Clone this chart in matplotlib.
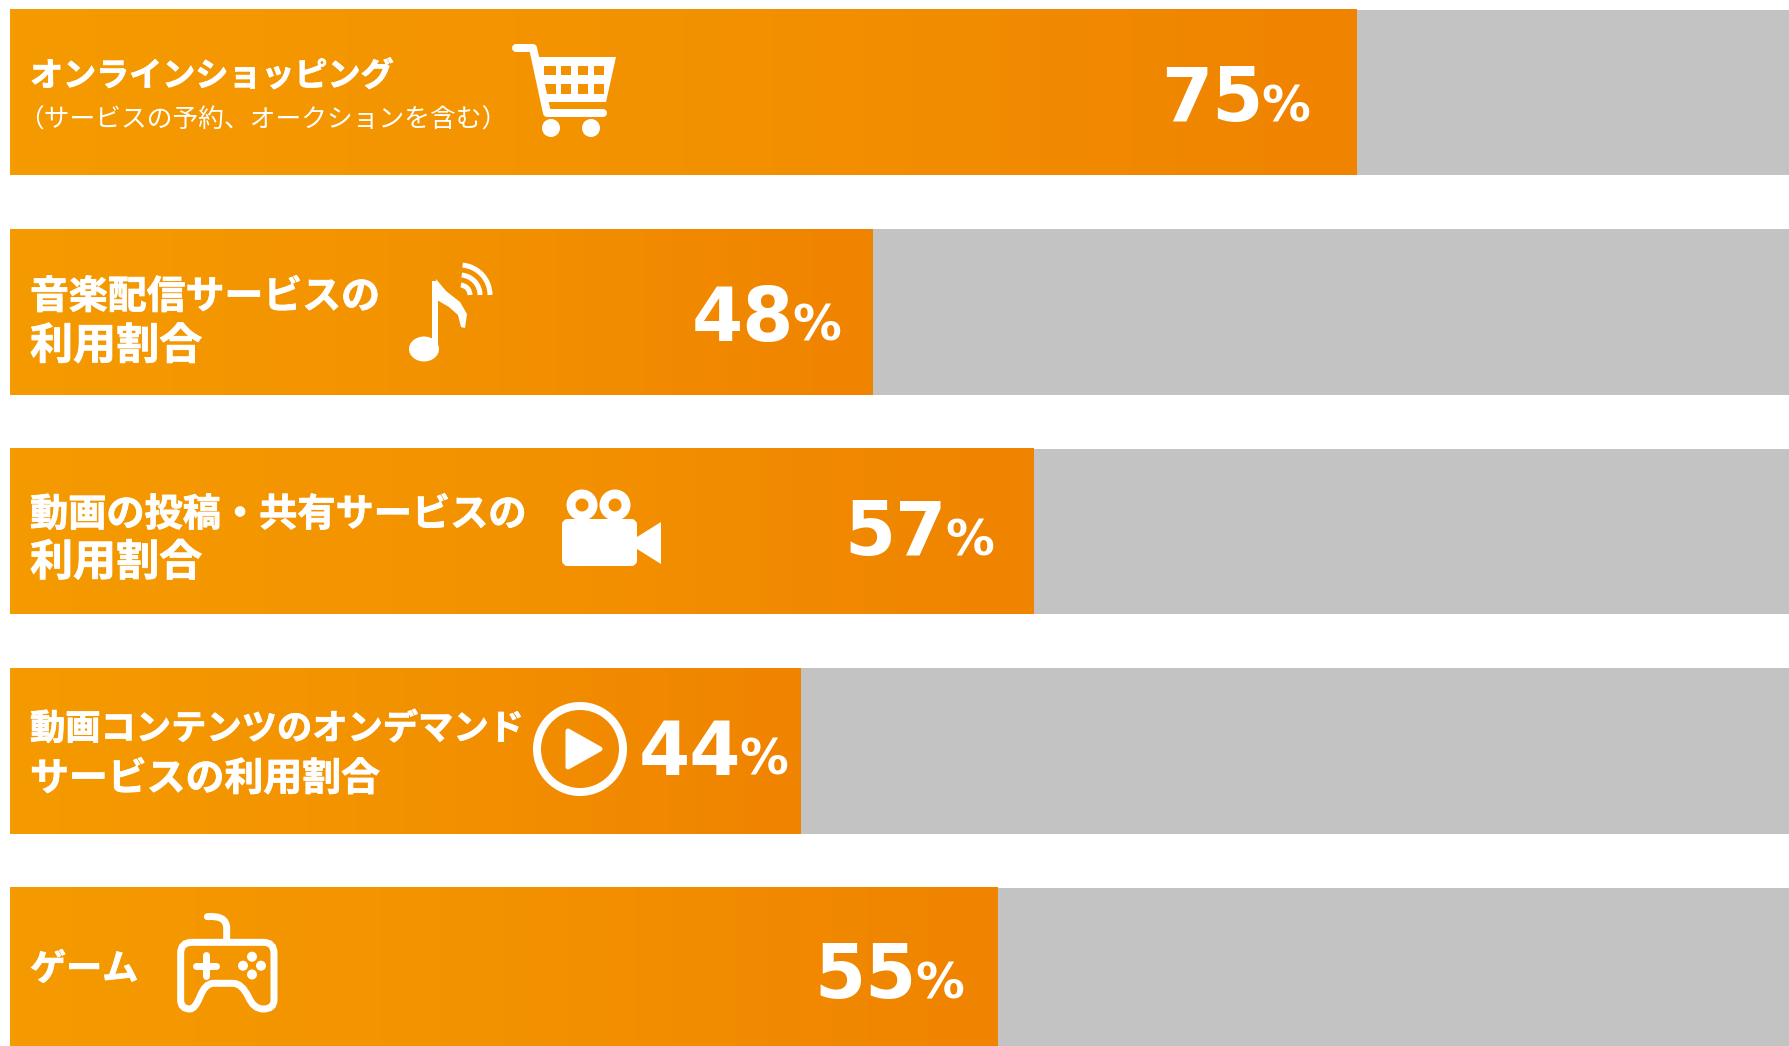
"""Internet service usage rates, horizontal gradient bars with icons."""

import matplotlib
matplotlib.use("Agg")
import matplotlib.patheffects as pe
import matplotlib.pyplot as plt
import numpy as np
from matplotlib.colors import LinearSegmentedColormap
from matplotlib.patches import Arc, Circle, Ellipse, FancyBboxPatch, PathPatch, Polygon
from matplotlib.path import Path

plt.rcParams["font.family"] = ["Noto Sans CJK JP", "DejaVu Sans"]

categories = [
    "オンラインショッピング",
    "音楽配信サービスの\n利用割合",
    "動画の投稿・共有サービスの\n利用割合",
    "動画コンテンツのオンデマンド\nサービスの利用割合",
    "ゲーム",
]
sub_label = "（サービスの予約、オークションを含む）"
values = [75, 48, 57, 44, 55]
total = [100, 100, 100, 100, 100]

W, H = 1789, 1046
PX_PER_PCT = 17.96
BAR_H = 0.755
ORANGE = "#F39200"
GREY = "#C3C3C3"

# per-bar text placement, pixels relative to the bar
label_size = [[23.8], [28, 31], [27.5, 31], [25.4, 28], [26]]
label_dy = [[-16], [-15, 34], [-17, 31], [-22, 28], [-1]]
pct_gap = [47, 31, 40, 12, 34]
pct_dy = [29, 29, 24, 24, 28]

fig = plt.figure(figsize=(W / 100, H / 100), dpi=100)
ax = fig.add_axes([0, 0, 1, 1])
ov = fig.add_axes([0, 0, 1, 1], zorder=3)
ov.set_xlim(0, W)
ov.set_ylim(H, 0)
ov.axis("off")
ov.patch.set_alpha(0)

cmap = LinearSegmentedColormap.from_list("bar", ["#F59A00", "#F39200", "#F08300"])
grad = np.linspace(0, 1, 256).reshape(1, -1)
pos = np.arange(len(values))

ax.barh(pos, total, height=BAR_H, color=GREY, zorder=1)
for y, v in zip(pos, values):
    ax.imshow(grad, cmap=cmap, aspect="auto", zorder=2,
              extent=(0, v, y + BAR_H / 2, y - BAR_H / 2))

ax.set_xlim(-10 / PX_PER_PCT, (W - 10) / PX_PER_PCT)
ax.set_ylim(4.344, -0.4214)
ax.axis("off")


def px(n):
    return n * 72 / 100


heavy = [pe.withStroke(linewidth=0.6, foreground="white")]

for i, (name, v) in enumerate(zip(categories, values)):
    lines = name.split("\n")
    for line, dy, size in zip(lines, label_dy[i], label_size[i]):
        ax.annotate(line, xy=(0, i), xytext=(px(20), -px(dy)), textcoords="offset points",
                    color="white", fontsize=size, fontweight="bold",
                    ha="left", va="center", zorder=4, path_effects=heavy)
    if i == 0:
        ax.annotate(sub_label, xy=(0, i), xytext=(px(8), -px(28)), textcoords="offset points",
                    color="white", fontsize=18.5, fontweight="normal",
                    ha="left", va="center", zorder=4)
    pct = ax.annotate("%", xy=(v, i), xytext=(-px(pct_gap[i]), -px(pct_dy[i])),
                      textcoords="offset points", color="white", fontsize=35,
                      fontweight="bold", family="DejaVu Sans",
                      ha="right", va="baseline", zorder=4)
    ax.annotate(str(v), xy=(0, 0), xycoords=pct, xytext=(px(2), px(10)),
                textcoords="offset points", color="white", fontsize=53,
                fontweight="bold", family="DejaVu Sans",
                ha="right", va="baseline", zorder=4)


def stroke(pts, lw):
    arr = np.array(pts)
    ov.plot(arr[:, 0], arr[:, 1], color="white", lw=px(lw),
            solid_capstyle="round", solid_joinstyle="round")


def draw_cart():
    stroke([(516, 48), (533, 48), (547, 113), (603, 113)], 8)
    ov.add_patch(Polygon([(538, 57), (616, 57), (606, 102), (545, 102)], fc="white", ec="none"))
    for x0, x1 in [(544, 556), (561, 571), (578, 588), (594, 604)]:
        for y0, y1 in [(66, 75), (84, 94)]:
            ov.add_patch(Polygon([(x0, y0), (x1, y0), (x1, y1), (x0, y1)], fc=ORANGE, ec="none"))
    ov.add_patch(Circle((551, 128), 9, fc="white", ec="none"))
    ov.add_patch(Circle((591, 128), 9, fc="white", ec="none"))


def draw_note():
    ov.add_patch(Polygon([(432, 281), (438, 281), (438, 352), (432, 352)], fc="white", ec="none"))
    ov.add_patch(Ellipse((424, 349), 30, 25, fc="white", ec="none"))
    ov.add_patch(Polygon([(436, 279), (446, 291), (460, 302), (467, 314), (465, 328), (461, 327),
                          (458, 315), (449, 307), (437, 300)], fc="white", ec="none"))
    for r in (30, 20, 10):
        ov.add_patch(Arc((460, 295), 2 * r, 2 * r, theta1=-85, theta2=0, color="white", lw=px(5)))


def draw_camera():
    for cx in (582, 615):
        ov.add_patch(Circle((cx, 505), 11, fc="none", ec="white", lw=px(9)))
    ov.add_patch(FancyBboxPatch((567, 524), 65, 37, boxstyle="round,pad=0,rounding_size=1",
                                fc="white", ec="white", lw=px(10)))
    ov.add_patch(Polygon([(637, 537), (661, 522), (661, 564), (637, 549)], fc="white", ec="none"))


def draw_play():
    ov.add_patch(Circle((580, 749), 43, fc="none", ec="white", lw=px(8)))
    ov.add_patch(Polygon([(568, 731), (600, 749), (568, 767)], fc="white", ec="white",
                         lw=px(5), joinstyle="round"))


def draw_pad():
    verts = [(575, 247), (790, 247), (822, 247), (822, 280), (822, 420), (822, 447), (790, 447),
             (760, 447), (745, 410), (725, 370), (700, 370), (640, 370), (615, 370), (600, 410),
             (585, 447), (570, 447), (542, 447), (542, 420), (542, 280), (542, 247), (575, 247)]
    codes = [Path.MOVETO, Path.LINETO, Path.CURVE3, Path.CURVE3, Path.LINETO, Path.CURVE3, Path.CURVE3,
             Path.CURVE3, Path.CURVE3, Path.CURVE3, Path.CURVE3, Path.LINETO, Path.CURVE3, Path.CURVE3,
             Path.CURVE3, Path.CURVE3, Path.CURVE3, Path.CURVE3, Path.LINETO, Path.CURVE3, Path.CURVE3]
    arr = np.array(verts) / 3 + [0, 860]
    ov.add_patch(PathPatch(Path(arr, codes), fc="none", ec="white", lw=px(7)))
    cable = np.array([(622, 170), (680, 165), (680, 205), (680, 245)]) / 3 + [0, 860]
    ov.add_patch(PathPatch(Path(cable, [Path.MOVETO, Path.CURVE3, Path.CURVE3, Path.LINETO]),
                           fc="none", ec="white", lw=px(7), capstyle="round"))
    stroke([(196, 965.7), (216, 965.7)], 7)
    stroke([(205.5, 955), (205.5, 976)], 7)
    for bx, by in [(243, 965.7), (261, 965.7), (252, 956.7), (252, 974.5)]:
        ov.add_patch(Circle((bx, by), 5, fc="white", ec="none"))


draw_cart()
draw_note()
draw_camera()
draw_play()
draw_pad()

fig.savefig("out.png", dpi=100)
